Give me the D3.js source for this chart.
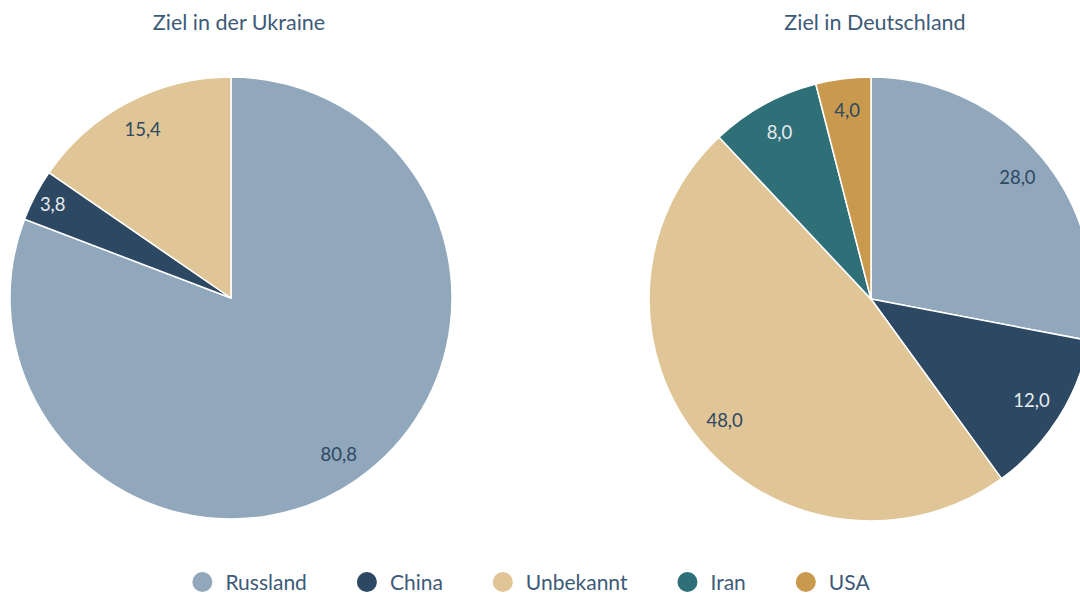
<!DOCTYPE html>
<html><head><meta charset="utf-8">
<script src="https://cdn.jsdelivr.net/npm/d3@7"></script>
<style>
html,body{margin:0;padding:0;background:#fff;}
svg{display:block;font-family:"Lato","Noto Sans",sans-serif;}
</style></head>
<body><svg id="c" width="1080" height="596"></svg>
<script>
const categories = ["Russland","China","Unbekannt","Iran","USA"];
const colors = ["#91a7bb","#2d4862","#e0c597","#2f7078","#c99a4d"];
const labelColors = ["#2d4862","#e6ebf0","#2d4862","#e6ebf0","#2d4862"];
const titles = ["Ziel in der Ukraine","Ziel in Deutschland"];
const ukraineValues = [80.8, 3.8, 15.4, null, null];
const deutschlandValues = [28.0, 12.0, 48.0, 8.0, 4.0];

const svg = d3.select("#c");
const fmt = v => d3.format(".1f")(v).replace(".", ",");

const pies = [
  {title: titles[0], values: ukraineValues, cx: 231, cy: 298, r: 221, tx: 239},
  {title: titles[1], values: deutschlandValues, cx: 871, cy: 299, r: 222, tx: 875}
];

const pie = d3.pie().sort(null).value(d => d.v);

pies.forEach(p => {
  const data = categories.map((c, i) => ({c, i, v: p.values[i]})).filter(d => d.v != null);
  const arcs = pie(data);
  const g = svg.append("g").attr("transform", `translate(${p.cx},${p.cy})`);
  const arc = d3.arc().innerRadius(0).outerRadius(p.r);
  const lab = d3.arc().innerRadius(190).outerRadius(190);
  g.selectAll("path").data(arcs).join("path")
    .attr("d", arc)
    .attr("fill", d => colors[d.data.i])
    .attr("stroke", "#fff").attr("stroke-width", 1.5).attr("stroke-linejoin", "round");
  g.selectAll("text").data(arcs).join("text")
    .attr("transform", d => {
      let [x, y] = lab.centroid(d);
      if (d.endAngle - d.startAngle < 0.3 && d.data.c === "China") { x *= 1.06; y *= 1.06; }
      return `translate(${x},${y})`;
    })
    .attr("text-anchor", "middle").attr("dy", "0.35em")
    .attr("font-size", 18.5)
    .attr("fill", d => labelColors[d.data.i])
    .text(d => fmt(d.data.v));
  svg.append("text").attr("x", p.tx).attr("y", 30)
    .attr("text-anchor", "middle").attr("font-size", 21.5)
    .attr("fill", "#3d5a78").text(p.title);
});

// legend
const lg = svg.append("g");
let x = 0;
categories.forEach((c, i) => {
  const it = lg.append("g");
  it.append("circle").attr("cx", 0).attr("cy", -8).attr("r", 10).attr("fill", colors[i]);
  const t = it.append("text").attr("x", 23).attr("y", 0)
    .attr("font-size", 21).attr("fill", "#3d5a78").text(c);
  const w = t.node().getComputedTextLength();
  it.attr("transform", `translate(${x},590)`);
  x += 23 + w + 60;
});
const totalW = x - 60 + 10;
lg.attr("transform", `translate(${531 - totalW / 2 + 10},0)`);
</script></body></html>
